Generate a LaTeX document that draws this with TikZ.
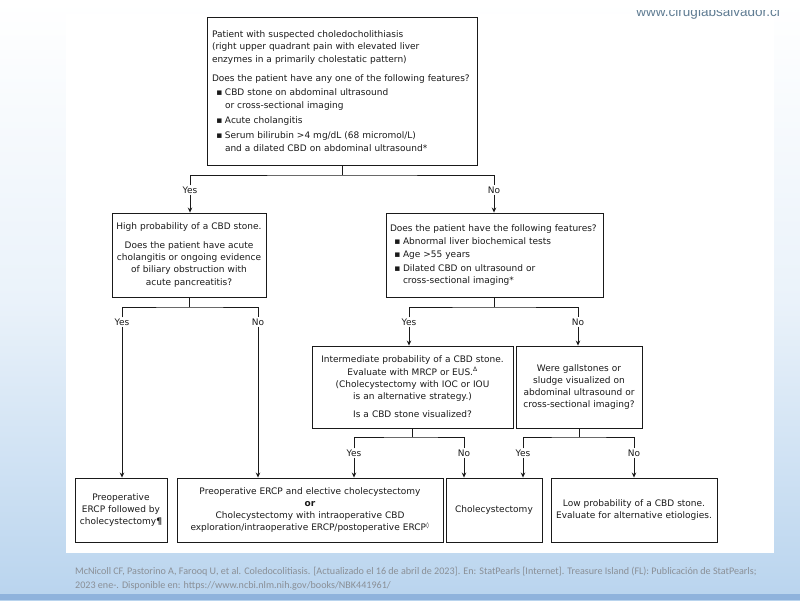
\documentclass[tikz,border=0pt]{standalone}
\usepackage{fontspec}
\setmainfont{DejaVu Sans}
\newfontfamily\citefont{Carlito}
\newfontfamily\wwwfont{Liberation Sans}
\usetikzlibrary{arrows.meta}
\definecolor{txt}{HTML}{1A1A1A}
\definecolor{bgblue}{HTML}{B9D4EE}
\definecolor{stripe}{HTML}{8FB3DC}
\definecolor{citegray}{HTML}{8A8F96}
\definecolor{wwwcol}{HTML}{5F7C92}
\newcommand\bul{\makebox[13pt][r]{▪\hspace{2.5pt}}}
\newcommand\ind{\hspace*{13pt}}
\tikzset{
  x=1pt, y=-1pt,
  box/.style={draw=txt, line width=0.9pt, inner xsep=5pt, inner ysep=0pt, text=txt,
    font=\fontsize{9}{12.3}\selectfont},
  lbl/.style={inner sep=1pt, text=txt, font=\fontsize{9}{11}\selectfont},
  conn/.style={draw=txt, line width=0.8pt},
  arr/.style={conn, -{Stealth[length=5pt,width=4.5pt]}}
}
\begin{document}
\begin{tikzpicture}
\useasboundingbox (0,0) rectangle (800,600);
\clip (0,0) rectangle (800,600);
% background slide
\shade[top color=white, bottom color=bgblue, middle color=white!70!bgblue] (0,0) rectangle (800,600);
\fill[stripe] (0,594) rectangle (800,600);
\fill[white] (66,14) rectangle (774,553);
\begin{scope}
\clip (600,10.5) rectangle (800,30);
\node[anchor=base east, text=wwwcol, font=\wwwfont\fontsize{13.5}{15}\selectfont, inner sep=0pt] (www) at (780,16.5) {www.cirugiabsalvador.cl};
\end{scope}

% nodes
\node[box, minimum width=270pt, minimum height=148pt, text width=260pt, align=left] (top) at (342,91) {%
Patient with suspected choledocholithiasis\\
(right upper quadrant pain with elevated liver\\
enzymes in a primarily cholestatic pattern)\\[7pt]
Does the patient have any one of the following features?\\[2pt]
\bul CBD stone on abdominal ultrasound\\
\ind or cross-sectional imaging\\[3pt]
\bul Acute cholangitis\\[3pt]
\bul Serum bilirubin >4 mg/dL (68 micromol/L)\\
\ind and a dilated CBD on abdominal ultrasound*};

\node[box, minimum width=154pt, minimum height=84pt, text width=150pt, inner xsep=2pt, align=center] (hp) at (189,255) {%
High probability of a CBD stone.\\[6pt]
Does the patient have acute\\
cholangitis or ongoing evidence\\
of biliary obstruction with\\
acute pancreatitis?};

\node[box, minimum width=217pt, minimum height=84pt, text width=209pt, inner xsep=4pt, align=left] (rq) at (494.5,255) {%
Does the patient have the following features?\\[1pt]
\bul Abnormal liver biochemical tests\\[1pt]
\bul Age >55 years\\[1pt]
\bul Dilated CBD on ultrasound or\\
\ind cross-sectional imaging*};

\node[box, minimum width=201pt, minimum height=82pt, text width=197pt, inner xsep=2pt, align=center] (im) at (412.5,387) {%
Intermediate probability of a CBD stone.\\
Evaluate with MRCP or EUS.\textsuperscript{Δ}\\
(Cholecystectomy with IOC or IOU\\
is an alternative strategy.)\\[6pt]
Is a CBD stone visualized?};

\node[box, minimum width=126pt, minimum height=82pt, text width=122pt, inner xsep=2pt, align=center] (gs) at (579,387) {%
Were gallstones or\\
sludge visualized on\\
abdominal ultrasound or\\
cross-sectional imaging?};

\node[box, minimum width=92pt, minimum height=64pt, text width=90pt, inner xsep=1pt, align=center] (b1) at (121,510) {%
Preoperative\\
ERCP followed by\\
cholecystectomy\textbf{¶}};

\node[box, minimum width=266pt, minimum height=64pt, text width=262pt, inner xsep=2pt, align=center] (b2) at (310,510) {%
Preoperative ERCP and elective cholecystectomy\\
\textbf{or}\\
Cholecystectomy with intraoperative CBD\\
exploration/intraoperative ERCP/postoperative ERCP\textsuperscript{◊}};

\node[box, minimum width=96pt, minimum height=64pt, text width=92pt, inner xsep=2pt, align=center] (b3) at (494,510) {Cholecystectomy};

\node[box, minimum width=166pt, minimum height=64pt, text width=162pt, inner xsep=2pt, align=center] (b4) at (634,510) {%
Low probability of a CBD stone.\\
Evaluate for alternative etiologies.};

% labels
\node[lbl] (yes1) at (190,190) {Yes};
\node[lbl] (no1) at (494,190) {No};
\node[lbl] (yes2) at (122,322) {Yes};
\node[lbl] (no2) at (258,322) {No};
\node[lbl] (yes3) at (409,322) {Yes};
\node[lbl] (no3) at (578,322) {No};
\node[lbl] (yes4) at (354,453) {Yes};
\node[lbl] (no4) at (464,453) {No};
\node[lbl] (yes5) at (523,453) {Yes};
\node[lbl] (no5) at (634,453) {No};

% junction coordinates
\coordinate (j1) at (342,175);
\coordinate (j2) at (189,307);
\coordinate (j3) at (494.5,307);
\coordinate (j4) at (412.5,437);
\coordinate (j5) at (579,437);

% connectors
\draw[conn] (top.south) -- (j1);
\draw[conn] (yes1.north) |- (j1) -| (no1.north);
\draw[arr] (yes1.south) -- (yes1.south |- hp.north);
\draw[arr] (no1.south) -- (no1.south |- rq.north);

\draw[conn] (hp.south) -- (j2);
\draw[conn] (yes2.north) |- (j2) -| (no2.north);
\draw[arr] (yes2.south) -- (yes2.south |- b1.north);
\draw[arr] (no2.south) -- (no2.south |- b2.north);

\draw[conn] (rq.south) -- (j3);
\draw[conn] (yes3.north) |- (j3) -| (no3.north);
\draw[arr] (yes3.south) -- (yes3.south |- im.north);
\draw[arr] (no3.south) -- (no3.south |- gs.north);

\draw[conn] (im.south) -- (j4);
\draw[conn] (yes4.north) |- (j4) -| (no4.north);
\draw[arr] (yes4.south) -- (yes4.south |- b2.north);
\draw[arr] (no4.south) -- (no4.south |- b3.north);

\draw[conn] (gs.south) -- (j5);
\draw[conn] (yes5.north) |- (j5) -| (no5.north);
\draw[arr] (yes5.south) -- (yes5.south |- b3.north);
\draw[arr] (no5.south) -- (no5.south |- b4.north);

% citation
\node[anchor=base west, align=left, inner sep=0pt, text=citegray, font=\citefont\fontsize{10.1}{14}\selectfont] (cite) at (75,588) {%
McNicoll CF, Pastorino A, Farooq U, et al. Coledocolitiasis. [Actualizado el 16 de abril de 2023]. En: StatPearls [Internet]. Treasure Island (FL): Publicación de StatPearls;\\
2023 ene-. Disponible en: https://www.ncbi.nlm.nih.gov/books/NBK441961/};
\end{tikzpicture}
\end{document}
